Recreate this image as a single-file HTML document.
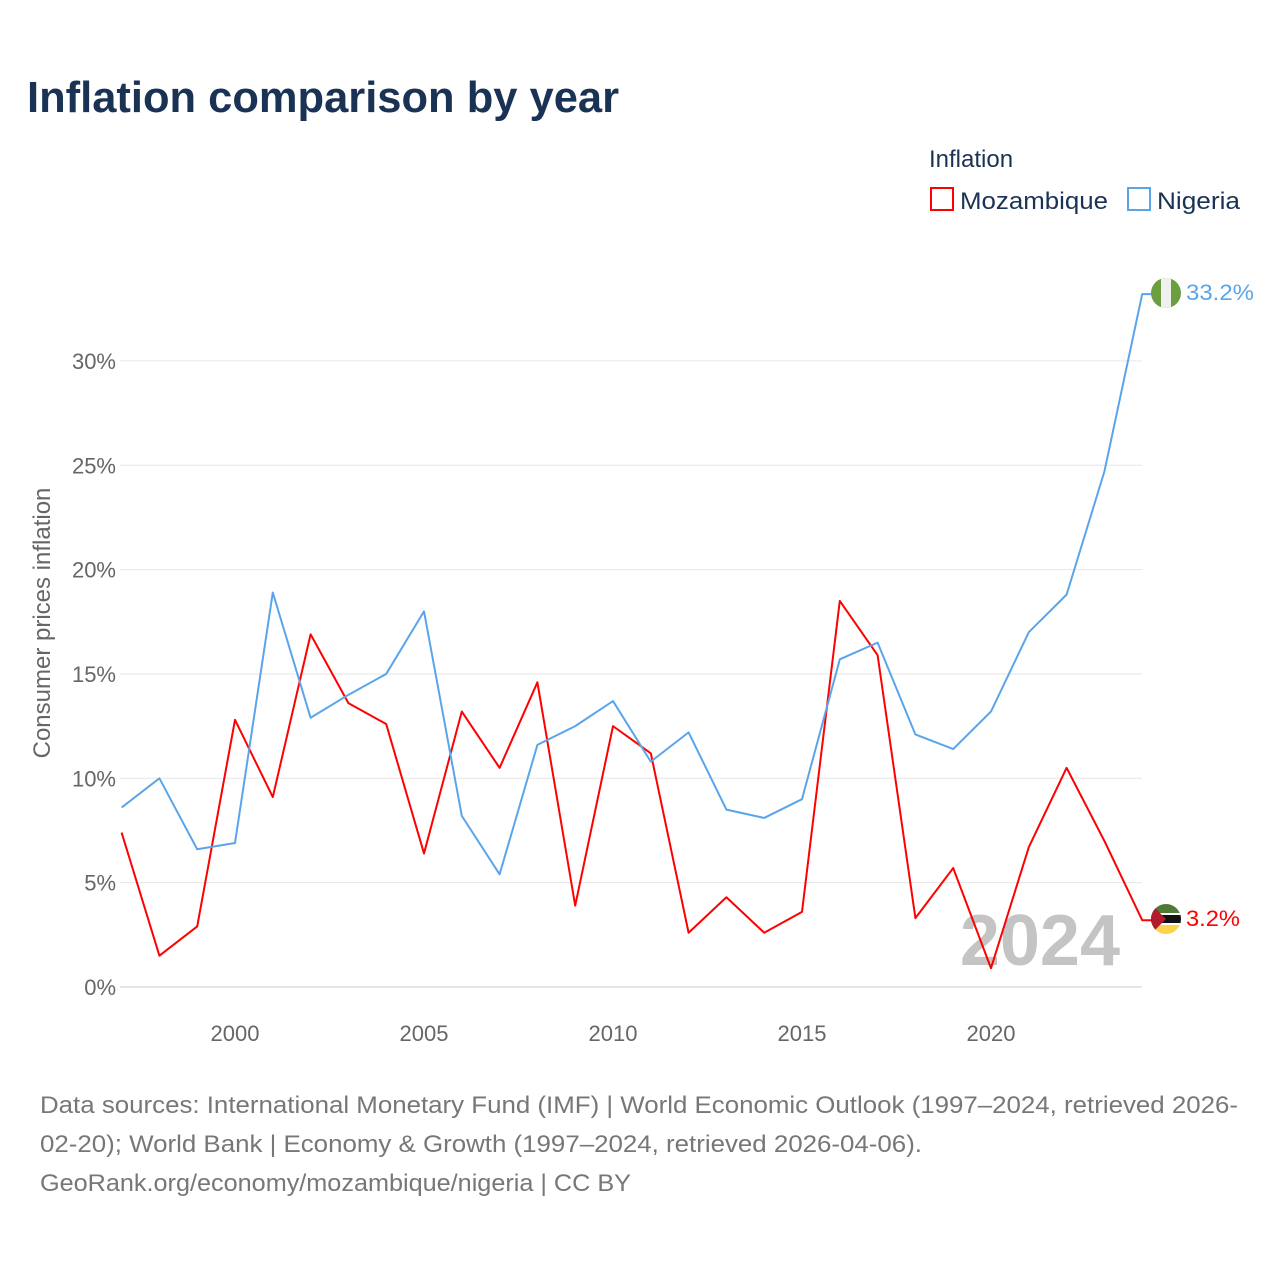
<!DOCTYPE html>
<html><head><meta charset="utf-8"><style>
body{margin:0;background:#fff;font-family:"Liberation Sans",sans-serif;}
</style></head><body>
<svg width="1280" height="1280" xmlns="http://www.w3.org/2000/svg" font-family="Liberation Sans, sans-serif">
<text x="27" y="112" font-size="44" font-weight="bold" fill="#1a3355" textLength="592" lengthAdjust="spacingAndGlyphs">Inflation comparison by year</text>
<text x="929" y="167" font-size="24" fill="#1a3355">Inflation</text>
<g><rect x="931" y="188" width="22" height="22" fill="none" stroke="#ff0000" stroke-width="2"/><text x="960" y="209" font-size="24" fill="#1a3355" textLength="148" lengthAdjust="spacingAndGlyphs">Mozambique</text></g>
<g><rect x="1128" y="188" width="22" height="22" fill="none" stroke="#5aa5ea" stroke-width="2"/><text x="1157" y="209" font-size="24" fill="#1a3355" textLength="83" lengthAdjust="spacingAndGlyphs">Nigeria</text></g>
<g id="grid"></g>
<text transform="translate(50,623) rotate(-90)" text-anchor="middle" font-size="24" fill="#666">Consumer prices inflation</text>
<text x="1120" y="965" text-anchor="end" font-size="72" font-weight="bold" fill="#c4c4c4">2024</text>
<g id="series"></g>
<g><clipPath id="cn"><circle cx="1166" cy="293" r="15"/></clipPath><g clip-path="url(#cn)"><rect x="1151" y="278" width="30" height="30" fill="#6a9e3f"/><rect x="1161" y="278" width="10" height="30" fill="#f0f0f0"/></g></g>
<g><clipPath id="cm"><circle cx="1166" cy="919" r="15"/></clipPath><g clip-path="url(#cm)"><rect x="1151" y="904" width="30" height="10" fill="#4d7a36"/><rect x="1151" y="914" width="30" height="10" fill="#111"/><rect x="1151" y="913" width="30" height="2" fill="#fff"/><rect x="1151" y="923" width="30" height="2" fill="#fff"/><rect x="1151" y="925" width="30" height="10" fill="#fcd34d"/><polygon points="1151,904 1166,919 1151,934" fill="#b01c2e"/></g></g>
<text x="1186" y="300" font-size="22" fill="#5aa5ea" textLength="68" lengthAdjust="spacingAndGlyphs">33.2%</text>
<text x="1186" y="926" font-size="22" fill="#ff0000" textLength="54" lengthAdjust="spacingAndGlyphs">3.2%</text>
<g font-size="24" fill="#777">
<text x="40" y="1113" textLength="1198" lengthAdjust="spacingAndGlyphs">Data sources: International Monetary Fund (IMF) | World Economic Outlook (1997–2024, retrieved 2026-</text>
<text x="40" y="1152" textLength="882" lengthAdjust="spacingAndGlyphs">02-20); World Bank | Economy &amp; Growth (1997–2024, retrieved 2026-04-06).</text>
<text x="40" y="1191" textLength="591" lengthAdjust="spacingAndGlyphs">GeoRank.org/economy/mozambique/nigeria | CC BY</text>
</g>
</svg>
<script>
const years=[1997,1998,1999,2000,2001,2002,2003,2004,2005,2006,2007,2008,2009,2010,2011,2012,2013,2014,2015,2016,2017,2018,2019,2020,2021,2022,2023,2024];
const mozambique=[7.4,1.5,2.9,12.8,9.1,16.9,13.6,12.6,6.4,13.2,10.5,14.6,3.9,12.5,11.2,2.6,4.3,2.6,3.6,18.5,15.9,3.3,5.7,0.9,6.7,10.5,7.0,3.2];
const nigeria=[8.6,10.0,6.6,6.9,18.9,12.9,14.0,15.0,18.0,8.2,5.4,11.6,12.5,13.7,10.8,12.2,8.5,8.1,9.0,15.7,16.5,12.1,11.4,13.2,17.0,18.8,24.7,33.2];
const yTicks=[0,5,10,15,20,25,30];
const xTicks=[2000,2005,2010,2015,2020];
const X=y=>121.6+(y-1997)*37.8;
const Y=v=>987-v*20.87;
const NS="http://www.w3.org/2000/svg";
const grid=document.getElementById('grid');
yTicks.forEach(t=>{
 const l=document.createElementNS(NS,'line');
 l.setAttribute('x1',120);l.setAttribute('x2',1142);l.setAttribute('y1',Y(t));l.setAttribute('y2',Y(t));
 l.setAttribute('stroke',t===0?'#ccc':'#e6e6e6');l.setAttribute('stroke-width',1);
 
 
 grid.appendChild(l);
 const tx=document.createElementNS(NS,'text');
 tx.setAttribute('x',116);tx.setAttribute('y',Y(t)+8);tx.setAttribute('text-anchor','end');tx.setAttribute('font-size','22');tx.setAttribute('fill','#666');
 tx.textContent=t+'%';
 
 
 grid.appendChild(tx);
});
xTicks.forEach(t=>{
 const tx=document.createElementNS(NS,'text');
 tx.setAttribute('x',X(t));tx.setAttribute('y',1041);tx.setAttribute('text-anchor','middle');tx.setAttribute('font-size','22');tx.setAttribute('fill','#666');
 tx.textContent=t;
 
 
 grid.appendChild(tx);
});
const series=document.getElementById('series');
function draw(vals,color,name){
 let pts=vals.map((v,i)=>X(years[i])+','+Y(v));
 pts.push('1152,'+Y(vals[vals.length-1]));
 const p=document.createElementNS(NS,'polyline');
 p.setAttribute('points',pts.join(' '));p.setAttribute('fill','none');p.setAttribute('stroke',color);p.setAttribute('stroke-width',2);p.setAttribute('stroke-linejoin','round');
 
 
 series.appendChild(p);
}
draw(mozambique,'#ff0000','mozambique-line');
draw(nigeria,'#5aa5ea','nigeria-line');
</script>
</body></html>
